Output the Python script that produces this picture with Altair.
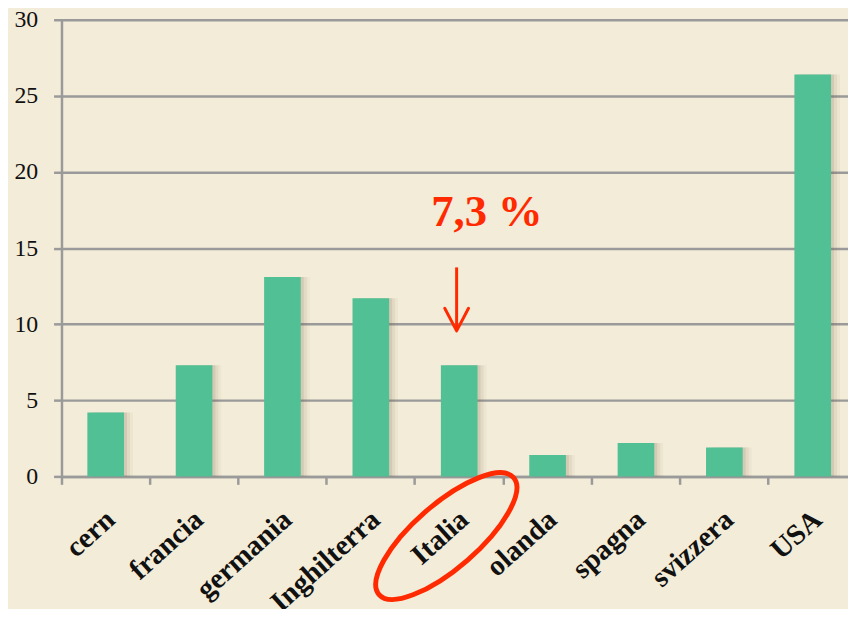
import altair as alt
import pandas as pd

countries = ["cern", "francia", "germania", "Inghilterra", "Italia",
             "olanda", "spagna", "svizzera", "USA"]
values = [4.2, 7.3, 13.1, 11.7, 7.3, 1.4, 2.2, 1.9, 26.4]
y_ticks = [0, 5, 10, 15, 20, 25, 30]
highlight = "Italia"
highlight_label = "7,3 %"

df = pd.DataFrame({"country": countries, "value": values})
ann = pd.DataFrame({"country": [highlight], "label": [highlight_label]})

RED = "#ff2a00"
GREEN = "#52c095"
GRAY = "#9a9a9a"
BG = "#f3ecd8"
BAR_W = 37

x_enc = alt.X(
    "country:N", sort=countries, title=None,
    scale=alt.Scale(paddingInner=0, paddingOuter=0),
    axis=alt.Axis(
        bandPosition=0, labelOffset=5, labelAngle=318, labelAlign="right",
        labelBaseline="middle", labelPadding=31, tickSize=8, tickWidth=2.5,
        tickColor=GRAY, domainColor=GRAY, domainWidth=2.5,
        labelFont="Liberation Serif", labelFontSize=29, labelFontWeight="bold",
        labelColor="#111111", labelOverlap=False, labelLimit=300, grid=False,
    ),
)
y_enc = alt.Y(
    "value:Q", title=None,
    scale=alt.Scale(domain=[0, 30], nice=False),
    axis=alt.Axis(
        values=y_ticks, tickSize=8, tickWidth=2.5, tickColor=GRAY,
        domainColor=GRAY, domainWidth=2.5, grid=True, gridColor=GRAY,
        gridWidth=2.5, gridOpacity=1, labelFont="Liberation Serif",
        labelFontSize=24, labelColor="#111111", labelPadding=16,
    ),
)

base = alt.Chart(df)
shadows = [
    base.mark_bar(width=BAR_W, xOffset=off, color="#6f5f3f", opacity=op)
    .encode(x=x_enc, y=y_enc)
    for off, op in [(3, 0.12), (6, 0.08), (9, 0.05)]
]
bars = base.mark_bar(width=BAR_W, color=GREEN).encode(x=x_enc, y=y_enc)

a = alt.Chart(ann)
ax = alt.X("country:N", sort=countries)
txt = a.mark_text(font="Liberation Serif", fontSize=45, fontWeight="bold",
                  color=RED, baseline="alphabetic", align="center",
                  xOffset=28).encode(x=ax, y=alt.datum(16.46), text="label:N")
shaft = a.mark_rule(color=RED, strokeWidth=3, xOffset=-2.6).encode(
    x=ax, y=alt.datum(13.73), y2=alt.datum(9.7))
head = a.mark_point(shape="M -1 -1.9 L 0 0 L 1 -1.9", size=576, filled=False,
                    color=RED, strokeWidth=3, opacity=1, xOffset=-2.6,
                    strokeCap="round", strokeJoin="round").encode(
    x=ax, y=alt.datum(9.56))
ellipse = a.mark_point(
    shape="M -1 0 A 1 0.36 0 1 1 1 0 A 1 0.36 0 1 1 -1 0 Z",
    size=32400, angle=319, filled=False, color=RED, strokeWidth=5,
    opacity=1, xOffset=-13).encode(x=ax, y=alt.datum(-3.92))

chart = alt.layer(*shadows, bars, txt, shaft, head, ellipse).properties(
    width=803, height=461, background=BG,
    autosize=alt.AutoSizeParams(type="none"),
    padding={"left": 54, "top": 9, "right": -9, "bottom": 131},
).configure_view(stroke=None)

chart.save("out.html", embed_options={"renderer": "svg", "actions": False})
